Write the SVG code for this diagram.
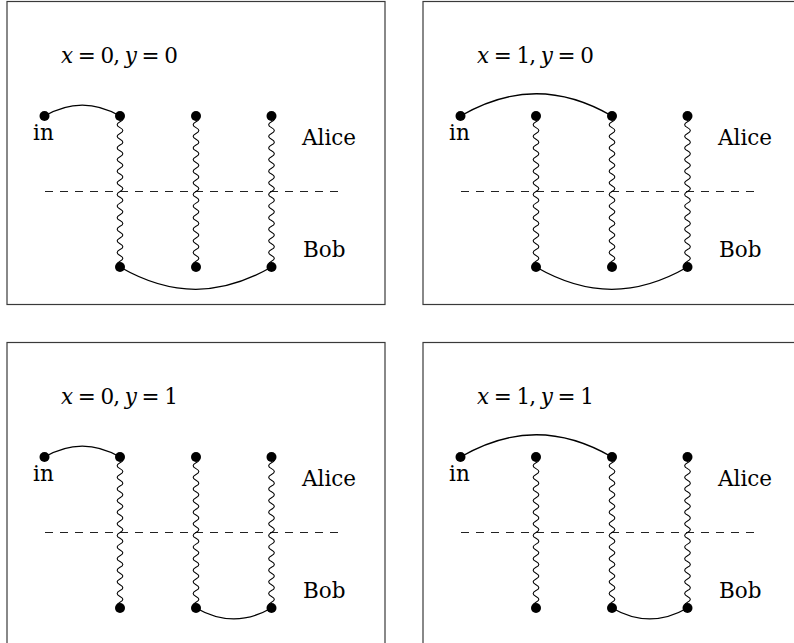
<svg xmlns="http://www.w3.org/2000/svg" xmlns:xlink="http://www.w3.org/1999/xlink" width="794" height="643" viewBox="0 0 794 643">
<style>
.frame{fill:none;stroke:#3a3a3a;stroke-width:1.2}
.dot{fill:#000}
.arc{fill:none;stroke:#000;stroke-width:1.3}
.snake{fill:none;stroke:#000;stroke-width:1.1}
.cut{fill:none;stroke:#222;stroke-width:1;stroke-dasharray:8 7}
text{font-family:"DejaVu Serif","Liberation Serif",serif;font-size:21.5px;fill:#000}
.it{font-style:italic}
</style>
<defs>
<path id="snk" class="snake" d="M0,0 c3.8,1.936 3.8,3.872 0,5.808 s-3.8,3.872 0,5.808 s3.8,3.872 0,5.808 s-3.8,3.872 0,5.808 s3.8,3.872 0,5.808 s-3.8,3.872 0,5.808 s3.8,3.872 0,5.808 s-3.8,3.872 0,5.808 s3.8,3.872 0,5.808 s-3.8,3.872 0,5.808 s3.8,3.872 0,5.808 s-3.8,3.872 0,5.808 s3.8,3.872 0,5.808 s-3.8,3.872 0,5.808 s3.8,3.872 0,5.808 s-3.8,3.872 0,5.808 s3.8,3.872 0,5.808 s-3.8,3.872 0,5.808 s3.8,3.872 0,5.808 s-3.8,3.872 0,5.808 s3.8,3.872 0,5.808 s-3.8,3.872 0,5.808 s3.8,3.872 0,5.808 s-3.8,3.872 0,5.808 s3.8,3.872 0,5.808 s-3.8,3.872 0,5.808"/>
</defs>

<!-- Panel 1: x=0, y=0 -->
<g id="panel-x0y0">
<rect class="frame" x="7" y="1.5" width="378" height="303"/>
<text x="61" y="63" textLength="117"><tspan class="it">x</tspan> = 0, <tspan class="it">y</tspan> = 0</text>
<line class="cut" x1="45" y1="191.5" x2="340" y2="191.5"/>
<g id="p1-connectors">
<path class="arc" d="M44.5,116 C70.1,101.2 94.4,101.2 120,116"/>
<path class="arc" d="M120,267 C171.4,296.7 220.1,296.7 271.5,267"/>
<use xlink:href="#snk" x="120" y="116"/>
<use xlink:href="#snk" x="196" y="116"/>
<use xlink:href="#snk" x="271.5" y="116"/>
</g>
<g id="p1-in"><circle class="dot" cx="44.5" cy="116" r="5"/><text x="33" y="140">in</text></g>
<g id="p1-a1"><circle class="dot" cx="120" cy="116" r="5"/></g>
<g id="p1-a2"><circle class="dot" cx="196" cy="116" r="5"/></g>
<g id="p1-a3"><circle class="dot" cx="271.5" cy="116" r="5"/></g>
<g id="p1-b1"><circle class="dot" cx="120" cy="267" r="5"/></g>
<g id="p1-b2"><circle class="dot" cx="196" cy="267" r="5"/></g>
<g id="p1-b3"><circle class="dot" cx="271.5" cy="267" r="5"/></g>
<g id="p1-alice"><text x="302" y="145">Alice</text></g>
<g id="p1-bob"><text x="303" y="257">Bob</text></g>
</g>

<!-- Panel 2: x=1, y=0 -->
<g id="panel-x1y0" transform="translate(416,0)">
<rect class="frame" x="7" y="1.5" width="378" height="303"/>
<text x="61" y="63" textLength="117"><tspan class="it">x</tspan> = 1, <tspan class="it">y</tspan> = 0</text>
<line class="cut" x1="45" y1="191.5" x2="340" y2="191.5"/>
<g id="p2-connectors">
<path class="arc" d="M44.5,116 C95.9,86.3 144.6,86.3 196,116"/>
<path class="arc" d="M120,267 C171.4,296.7 220.1,296.7 271.5,267"/>
<use xlink:href="#snk" x="120" y="116"/>
<use xlink:href="#snk" x="196" y="116"/>
<use xlink:href="#snk" x="271.5" y="116"/>
</g>
<g id="p2-in"><circle class="dot" cx="44.5" cy="116" r="5"/><text x="33" y="140">in</text></g>
<g id="p2-a1"><circle class="dot" cx="120" cy="116" r="5"/></g>
<g id="p2-a2"><circle class="dot" cx="196" cy="116" r="5"/></g>
<g id="p2-a3"><circle class="dot" cx="271.5" cy="116" r="5"/></g>
<g id="p2-b1"><circle class="dot" cx="120" cy="267" r="5"/></g>
<g id="p2-b2"><circle class="dot" cx="196" cy="267" r="5"/></g>
<g id="p2-b3"><circle class="dot" cx="271.5" cy="267" r="5"/></g>
<g id="p2-alice"><text x="302" y="145">Alice</text></g>
<g id="p2-bob"><text x="303" y="257">Bob</text></g>
</g>

<!-- Panel 3: x=0, y=1 -->
<g id="panel-x0y1" transform="translate(0,341)">
<rect class="frame" x="7" y="1.5" width="378" height="303"/>
<text x="61" y="63" textLength="117"><tspan class="it">x</tspan> = 0, <tspan class="it">y</tspan> = 1</text>
<line class="cut" x1="45" y1="191.5" x2="340" y2="191.5"/>
<g id="p3-connectors">
<path class="arc" d="M44.5,116 C70.1,101.2 94.4,101.2 120,116"/>
<path class="arc" d="M196,267 C221.6,281.8 245.9,281.8 271.5,267"/>
<use xlink:href="#snk" x="120" y="116"/>
<use xlink:href="#snk" x="196" y="116"/>
<use xlink:href="#snk" x="271.5" y="116"/>
</g>
<g id="p3-in"><circle class="dot" cx="44.5" cy="116" r="5"/><text x="33" y="140">in</text></g>
<g id="p3-a1"><circle class="dot" cx="120" cy="116" r="5"/></g>
<g id="p3-a2"><circle class="dot" cx="196" cy="116" r="5"/></g>
<g id="p3-a3"><circle class="dot" cx="271.5" cy="116" r="5"/></g>
<g id="p3-b1"><circle class="dot" cx="120" cy="267" r="5"/></g>
<g id="p3-b2"><circle class="dot" cx="196" cy="267" r="5"/></g>
<g id="p3-b3"><circle class="dot" cx="271.5" cy="267" r="5"/></g>
<g id="p3-alice"><text x="302" y="145">Alice</text></g>
<g id="p3-bob"><text x="303" y="257">Bob</text></g>
</g>

<!-- Panel 4: x=1, y=1 -->
<g id="panel-x1y1" transform="translate(416,341)">
<rect class="frame" x="7" y="1.5" width="378" height="303"/>
<text x="61" y="63" textLength="117"><tspan class="it">x</tspan> = 1, <tspan class="it">y</tspan> = 1</text>
<line class="cut" x1="45" y1="191.5" x2="340" y2="191.5"/>
<g id="p4-connectors">
<path class="arc" d="M44.5,116 C95.9,86.3 144.6,86.3 196,116"/>
<path class="arc" d="M196,267 C221.6,281.8 245.9,281.8 271.5,267"/>
<use xlink:href="#snk" x="120" y="116"/>
<use xlink:href="#snk" x="196" y="116"/>
<use xlink:href="#snk" x="271.5" y="116"/>
</g>
<g id="p4-in"><circle class="dot" cx="44.5" cy="116" r="5"/><text x="33" y="140">in</text></g>
<g id="p4-a1"><circle class="dot" cx="120" cy="116" r="5"/></g>
<g id="p4-a2"><circle class="dot" cx="196" cy="116" r="5"/></g>
<g id="p4-a3"><circle class="dot" cx="271.5" cy="116" r="5"/></g>
<g id="p4-b1"><circle class="dot" cx="120" cy="267" r="5"/></g>
<g id="p4-b2"><circle class="dot" cx="196" cy="267" r="5"/></g>
<g id="p4-b3"><circle class="dot" cx="271.5" cy="267" r="5"/></g>
<g id="p4-alice"><text x="302" y="145">Alice</text></g>
<g id="p4-bob"><text x="303" y="257">Bob</text></g>
</g>
</svg>
